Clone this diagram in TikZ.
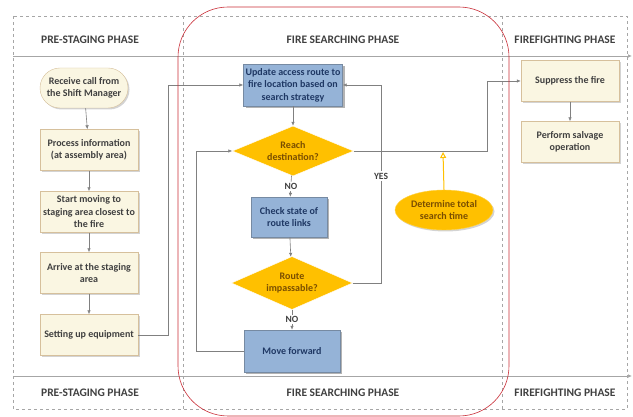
\documentclass[tikz,border=0pt]{standalone}
\usepackage{fontspec}
\setmainfont{Carlito}
\usetikzlibrary{arrows.meta,shapes.geometric,shadows}

\definecolor{creamfill}{RGB}{250,246,226}
\definecolor{creamdraw}{RGB}{214,192,156}
\definecolor{bluefill}{RGB}{149,179,215}
\definecolor{bluedraw}{RGB}{118,138,162}
\definecolor{bluetext}{RGB}{31,56,100}
\definecolor{gold}{RGB}{255,192,0}
\definecolor{goldtext}{RGB}{122,78,0}
\definecolor{graytext}{RGB}{64,64,64}
\definecolor{linegray}{RGB}{128,128,128}
\definecolor{framered}{RGB}{200,45,55}

\begin{document}
\begin{tikzpicture}[
    x=1pt, y=-1pt,
    box text/.style={font=\fontsize{10}{12.5}\selectfont\bfseries, align=center},
    stage/.style={box text, rectangle, draw=creamdraw, fill=creamfill, text=graytext,
        minimum width=98pt, minimum height=41pt, inner sep=1pt,
        drop shadow={shadow xshift=1.5pt, shadow yshift=-1.5pt, opacity=0.35}},
    start stage/.style={stage, rounded corners=20pt, minimum width=88pt, minimum height=40pt},
    search/.style={box text, rectangle, draw=bluedraw, fill=bluefill, text=bluetext,
        minimum height=42pt, inner sep=1pt,
        drop shadow={shadow xshift=2pt, shadow yshift=-2pt, opacity=0.6}},
    decision/.style={box text, diamond, draw=white, fill=gold, text=goldtext,
        minimum width=121pt, minimum height=50pt, inner sep=0pt, aspect=2.4},
    timer/.style={box text, ellipse, draw=gold!70, fill=gold, text=goldtext, minimum width=98pt,
        minimum height=40pt, inner sep=0pt,
        drop shadow={shadow xshift=1.5pt, shadow yshift=-1.5pt, opacity=0.35}},
    phase label/.style={font=\fontsize{11.5}{13}\selectfont\bfseries, text=graytext},
    conn/.style={draw=linegray, line width=0.6pt, -{Latex[length=4pt,width=3.5pt]}},
    edge label/.style={font=\fontsize{9.5}{11}\selectfont\bfseries, text=graytext, fill=white, inner sep=1.5pt},
    lane/.style={draw=gray!70, dashed, line width=0.4pt},
    header line/.style={draw=gray!70, line width=0.7pt, -{Latex[length=4pt,width=3.5pt]}}
]
\useasboundingbox (0,0) rectangle (633,417);

% Lanes
\draw[lane] (13,16) rectangle (627,409);
\draw[lane] (183,16) -- (183,409);
\draw[lane] (502,16) -- (502,409);
\draw[header line] (13,56) -- (632,56);
\draw[header line] (13,376) -- (632,376);

% Phase labels
\node[phase label] (preTop) at (90,40) {PRE-STAGING PHASE};
\node[phase label] (searchTop) at (343,40) {FIRE SEARCHING PHASE};
\node[phase label] (fightTop) at (565,40) {FIREFIGHTING PHASE};
\node[phase label] (preBot) at (90,393) {PRE-STAGING PHASE};
\node[phase label] (searchBot) at (343,393) {FIRE SEARCHING PHASE};
\node[phase label] (fightBot) at (565,393) {FIREFIGHTING PHASE};

% Pre-staging
\node[start stage] (recv) at (84,88) {Receive call from\\the Shift Manager};
\node[stage] (proc) at (89,150) {Process information\\(at assembly area)};
\node[stage] (start) at (89,212) {Start moving to\\staging area closest to\\the fire};
\node[stage] (arrive) at (89,273) {Arrive at the staging\\area};
\node[stage] (setup) at (89,335) {Setting up equipment};

\draw[conn] (recv) -- (proc);
\draw[conn] (proc) -- (start);
\draw[conn] (start) -- (arrive);
\draw[conn] (arrive) -- (setup);

% Fire searching
\node[search, minimum width=99pt] (upd) at (293,85) {Update access route to\\fire location based on\\search strategy};
\node[decision] (reach) at (293,151) {Reach\\destination?};
\node[search, minimum width=76pt, minimum height=40pt] (check) at (289,217) {Check state of\\route links};
\node[decision, minimum height=53pt] (route) at (292,283) {Route\\impassable?};
\node[search, minimum width=96pt] (move) at (292,351) {Move forward};
\node[timer] (total) at (444,210) {Determine total\\search time};

\coordinate (jA) at (168,335);
\coordinate (jB) at (196,351);
\coordinate (jC) at (381,283);
\coordinate (jD) at (487,151);
\coordinate (jE) at (443,152);

\draw[conn] (setup.east) -- (jA) |- (upd.west);
\draw[conn] (upd) -- (reach);
\draw[conn] (reach) -- node[edge label] {NO} (check);
\draw[conn] (check) -- (route);
\draw[conn] (route) -- node[edge label] {NO} (move);
\draw[conn] (move.west) -- (jB) |- (reach.west);
\draw[conn] (route.east) -- (jC) |- node[edge label, pos=0.27] {YES} (upd.east);
\draw[draw=gold, line width=1pt, -{Triangle[open, length=6pt, width=6pt]}] (total.north) -- (jE);

% Firefighting
\node[stage] (supp) at (570,81) {Suppress the fire};
\node[stage] (salv) at (570,142) {Perform salvage\\operation};
\draw[conn] (reach.east) -- (jD) |- (supp.west);
\draw[conn] (supp) -- (salv);

% Search phase outline
\draw[framered, line width=0.6pt, rounded corners=50pt] (178,7) rectangle (509,416);

\end{tikzpicture}
\end{document}
